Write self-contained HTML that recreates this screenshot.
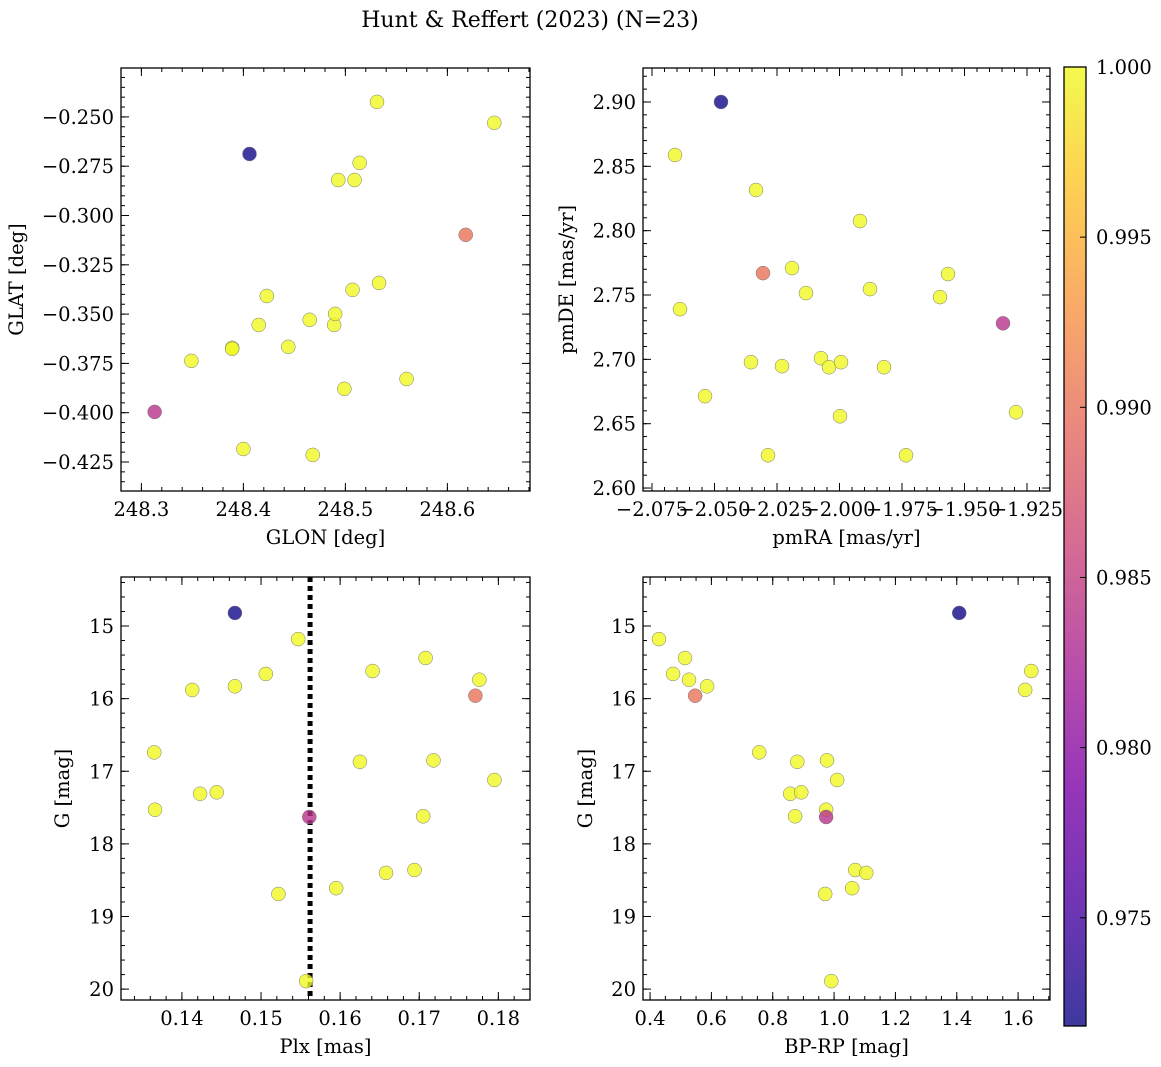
<!DOCTYPE html>
<html><head><meta charset="utf-8"><style>
html,body{margin:0;padding:0;background:#fff;}
svg{display:block;font-family:"DejaVu Serif","Liberation Serif",serif;}
</style></head><body>
<svg id="fig" width="1161" height="1067" viewBox="0 0 1161 1067" xmlns="http://www.w3.org/2000/svg">
<text x="530" y="27" font-size="22" text-anchor="middle">Hunt &amp; Reffert (2023) (N=23)</text>
<defs><linearGradient id="plasma" x1="0" y1="1" x2="0" y2="0"></linearGradient></defs>
</svg>
<script>
// ---- data (one entry per star) ----
const glon = [248.406,248.313,248.618,248.531,248.646,248.514,248.493,248.509,248.423,248.507,248.533,248.415,248.465,248.489,248.490,248.444,248.389,248.389,248.349,248.560,248.499,248.400,248.468];
const glat = [-0.2688,-0.3996,-0.3098,-0.2424,-0.2530,-0.2733,-0.2820,-0.2820,-0.3408,-0.3377,-0.3342,-0.3555,-0.3529,-0.3555,-0.3499,-0.3666,-0.3671,-0.3676,-0.3737,-0.3829,-0.3879,-0.4184,-0.4214];
const pmra = [-2.0474,-1.9346,-2.0306,-2.0658,-2.0334,-1.9918,-2.0638,-2.0190,-2.0134,-1.9878,-1.9566,-1.9598,-2.0074,-2.0354,-2.0230,-2.0042,-1.9994,-1.9822,-2.0538,-1.9998,-1.9294,-2.0286,-1.9734];
const pmde = [2.900,2.728,2.767,2.8588,2.8316,2.8075,2.7390,2.7709,2.7515,2.7546,2.7663,2.7484,2.7009,2.6978,2.6947,2.6939,2.6978,2.6939,2.6714,2.6558,2.6589,2.6255,2.6255];
const plx = [0.1467,0.1561,0.1771,0.1547,0.1708,0.1641,0.1776,0.1506,0.1467,0.1413,0.1365,0.1625,0.1718,0.1795,0.1423,0.1444,0.1366,0.1705,0.1694,0.1658,0.1595,0.1522,0.1557];
const gmag = [14.82,17.63,15.96,15.18,15.44,15.62,15.74,15.66,15.83,15.88,16.74,16.87,16.85,17.12,17.31,17.29,17.53,17.62,18.36,18.40,18.61,18.69,19.89];
const bprp = [1.408,0.974,0.547,0.429,0.514,1.643,0.527,0.475,0.586,1.623,0.756,0.880,0.977,1.010,0.857,0.893,0.974,0.873,1.069,1.105,1.059,0.971,0.991];
const prob = [0.9720,0.9840,0.9900,1,1,1,1,1,1,1,1,1,1,1,1,1,1,1,1,1,1,1,1];
const meanPlx = 0.1562;
const cbTicks = [0.975,0.980,0.985,0.990,0.995,1.000];

const NS="http://www.w3.org/2000/svg";
const svg=document.getElementById('fig');
const FS=19.5;
function el(tag,attrs,parent){const e=document.createElementNS(NS,tag);for(const k in attrs)e.setAttribute(k,attrs[k]);(parent||svg).appendChild(e);return e;}
const plasmaStops=[[0,[13,8,135]],[0.125,[75,3,161]],[0.25,[125,3,168]],[0.375,[168,34,150]],[0.5,[203,70,121]],[0.625,[229,107,93]],[0.75,[248,148,65]],[0.875,[253,195,40]],[1,[240,249,33]]];
function plasma(t){t=Math.max(0,Math.min(1,t));for(let i=1;i<plasmaStops.length;i++){if(t<=plasmaStops[i][0]){const a=plasmaStops[i-1],b=plasmaStops[i];const f=(t-a[0])/(b[0]-a[0]);const c=a[1].map((v,j)=>Math.round(v+(b[1][j]-v)*f));return `rgb(${c[0]},${c[1]},${c[2]})`;}}return 'rgb(240,249,33)';}
const cmin=0.97182,cmax=1.0;
const grad=document.getElementById('plasma');
plasmaStops.forEach(s=>el('stop',{offset:s[0],'stop-color':plasma(s[0])},grad));

function panel(name,box,xd,yd,xt,yt,xfmt,yfmt,xminor,yminor,xs,ys,xlab,ylab,ylabX){
  const [L,T,R,B]=box;
  const sx=v=>L+(v-xd[0])/(xd[1]-xd[0])*(R-L);
  const sy=v=>B-(v-yd[0])/(yd[1]-yd[0])*(B-T);
  const g=el('g',{});
  
  
  const tg=el('g',{stroke:'#000','stroke-width':1},g);
  function ticksX(step,len){const s=Math.ceil(xd[0]/step-1e-9);for(let k=s;k*step<=xd[1]+1e-12;k++){const x=sx(k*step);el('line',{x1:x,x2:x,y1:B,y2:B-len},tg);el('line',{x1:x,x2:x,y1:T,y2:T+len},tg);}}
  function ticksY(step,len){const lo=Math.min(yd[0],yd[1]),hi=Math.max(yd[0],yd[1]);const s=Math.ceil(lo/step-1e-9);for(let k=s;k*step<=hi+1e-12;k++){const y=sy(k*step);el('line',{x1:L,x2:L+len,y1:y,y2:y},tg);el('line',{x1:R,x2:R-len,y1:y,y2:y},tg);}}
  ticksX(xminor,4);ticksY(yminor,4);
  xt.forEach(v=>{const x=sx(v);el('line',{x1:x,x2:x,y1:B,y2:B-8},tg);el('line',{x1:x,x2:x,y1:T,y2:T+8},tg);
    const t=el('text',{x:x,y:B+25,'font-size':FS,'text-anchor':'middle'},g);t.textContent=xfmt(v);
    
    });
  yt.forEach(v=>{const y=sy(v);el('line',{x1:L,x2:L+8,y1:y,y2:y},tg);el('line',{x1:R,x2:R-8,y1:y,y2:y},tg);
    const t=el('text',{x:L-7,y:y+7,'font-size':FS,'text-anchor':'end'},g);t.textContent=yfmt(v);
    
    });
  const xl=el('text',{x:(L+R)/2,y:B+53,'font-size':FS,'text-anchor':'middle'},g);xl.textContent=xlab;
  
  
  const yl=el('text',{x:ylabX,y:(T+B)/2,'font-size':FS,'text-anchor':'middle',transform:`rotate(-90 ${ylabX} ${(T+B)/2})`},g);yl.textContent=ylab;
  
  
  return {g,sx,sy,box};
}
function points(p,xs,ys){
  const order=xs.map((_,i)=>i).sort((a,b)=>prob[b]-prob[a]);
  order.forEach(i=>{const c=el('circle',{cx:p.sx(xs[i]),cy:p.sy(ys[i]),r:7,fill:plasma((prob[i]-cmin)/(cmax-cmin)),'fill-opacity':0.8,stroke:'#777','stroke-width':0.5},p.g);
    
    });
}
function frame(p){const [L,T,R,B]=p.box;const r=el('rect',{x:L,y:T,width:R-L,height:B-T,fill:'none',stroke:'#000','stroke-width':1.3},p.g);
  
  }

const f3=v=>(v<0?'−':'')+Math.abs(v).toFixed(3);
const p1=panel('panel-glon-glat',[121,68,530,491],[248.280,248.681],[-0.4397,-0.2252],[248.3,248.4,248.5,248.6],[-0.25,-0.275,-0.3,-0.325,-0.35,-0.375,-0.4,-0.425],v=>v.toFixed(1),f3,0.02,0.005,glon,glat,'GLON [deg]','GLAT [deg]',23);
points(p1,glon,glat);frame(p1);
const p2=panel('panel-pm',[643,68,1050,491],[-2.0786,-1.9158],[2.5977,2.9264],[-2.075,-2.05,-2.025,-2.0,-1.975,-1.95,-1.925],[2.6,2.65,2.7,2.75,2.8,2.85,2.9],f3,v=>v.toFixed(2),0.005,0.01,pmra,pmde,'pmRA [mas/yr]','pmDE [mas/yr]',573);
points(p2,pmra,pmde);frame(p2);
const p3=panel('panel-plx-g',[121,577,530,1000],[0.1323,0.1840],[20.15,14.325],[0.14,0.15,0.16,0.17,0.18],[15,16,17,18,19,20],v=>v.toFixed(2),v=>v.toFixed(0),0.002,0.2,plx,gmag,'Plx [mas]','G [mag]',69);
const ml=el('line',{x1:p3.sx(meanPlx),x2:p3.sx(meanPlx),y1:577,y2:1000,stroke:'#000','stroke-width':5,'stroke-dasharray':'5 4'},p3.g);


points(p3,plx,gmag);frame(p3);
const p4=panel('panel-cmd',[643,577,1050,1000],[0.377,1.704],[20.15,14.325],[0.4,0.6,0.8,1.0,1.2,1.4,1.6],[15,16,17,18,19,20],v=>v.toFixed(1),v=>v.toFixed(0),0.05,0.2,bprp,gmag,'BP-RP [mag]','G [mag]',592);
points(p4,bprp,gmag);frame(p4);

// colorbar
const cb=el('g',{});


const cT=67,cB=1026,cL=1064,cR=1086;
el('rect',{x:cL,y:cT,width:cR-cL,height:cB-cT,fill:'url(#plasma)','fill-opacity':0.8},cb);
el('rect',{x:cL,y:cT,width:cR-cL,height:cB-cT,fill:'none',stroke:'#000','stroke-width':1.3},cb);
cbTicks.forEach(v=>{const y=cB-(v-cmin)/(cmax-cmin)*(cB-cT);
  el('line',{x1:cR,x2:cR-6,y1:y,y2:y,stroke:'#000'},cb);
  const t=el('text',{x:cR+10,y:y+7,'font-size':FS},cb);t.textContent=v.toFixed(3);
  
  });
</script>
</body></html>
